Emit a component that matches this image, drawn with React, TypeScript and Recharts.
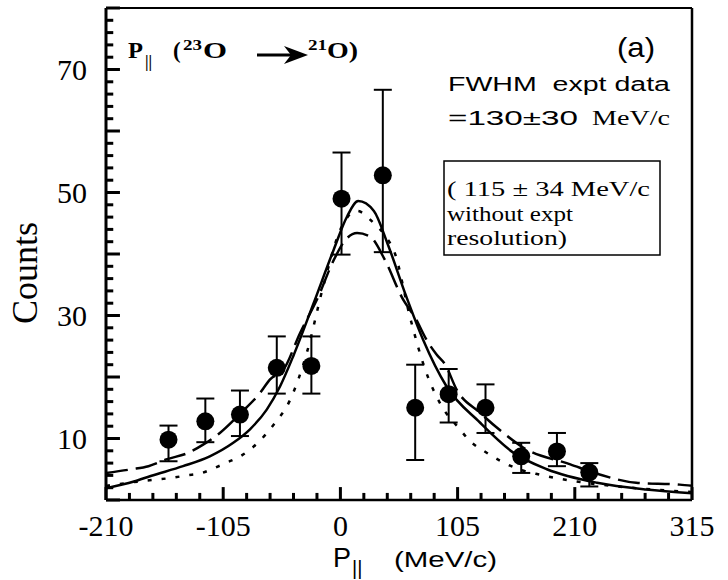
import {
  ComposedChart,
  ErrorBar,
  Label,
  Line,
  ReferenceLine,
  Scatter,
  XAxis,
  YAxis,
} from 'recharts';

// measured points (P|| in MeV/c, counts) with asymmetric error bars
const pointX = [-154, -121, -90, -57, -26, 1, 38, 67, 97, 130, 162, 194, 223];
const pointY = [9.8, 12.8, 13.9, 21.5, 21.8, 49.0, 52.8, 15.0, 17.2, 15.0, 7.1, 7.9, 4.5];
const errUp = [2.3, 3.7, 3.9, 5.1, 4.8, 7.5, 13.9, 7.0, 4.1, 3.8, 2.2, 3.0, 1.5];
const errDown = [3.5, 3.4, 3.5, 4.2, 4.5, 9.1, 12.5, 8.5, 4.6, 4.1, 2.7, 2.4, 2.3];

// solid curve
const solidX = [-210, -185, -170, -141, -117, -96, -81, -66, -54, -42, -24, -6, 6, 16, 30, 42, 59, 74, 95, 125, 155, 185, 230, 274, 315];
const solidY = [1.9, 3.0, 3.9, 5.5, 7.1, 9.3, 11.5, 14.7, 18.5, 23.5, 32, 40.7, 46.1, 48.6, 47, 41.8, 33.1, 26.1, 18.5, 12.6, 7.7, 5.0, 2.8, 1.7, 1.1];

// dashed curve
const dashX = [-210, -187, -172, -156, -136, -123, -108, -90, -72, -63, -51, -36, -20, -6, 5, 15, 26, 40, 55, 68, 77, 86, 94, 104, 125, 146, 164, 206, 233, 265, 304, 315];
const dashY = [4.4, 5.0, 5.5, 6.6, 7.7, 9.0, 10.9, 14, 17.4, 19.6, 21.2, 27.2, 33, 39, 42.4, 43.4, 42.9, 39, 33, 29.3, 26.1, 23.7, 22, 18, 14.2, 10.9, 8.5, 5.8, 4.1, 2.8, 2.5, 2.3];

// dotted curve
const dotX = [-210, -190, -166, -151, -138, -124, -114, -103, -88, -74, -60, -45, -30, -15, 0, 15, 30, 40, 49, 62, 76, 90, 107, 116, 130, 144, 160, 179, 192, 220, 260, 315];
const dotY = [2.3, 2.8, 3.3, 3.6, 4.0, 4.4, 5.1, 6.0, 7.3, 9.3, 12.2, 16.3, 24, 35, 44, 47, 45, 43, 40, 30, 21.2, 15.5, 11.5, 9.6, 7.8, 6.3, 5.0, 4.1, 3.6, 2.8, 2.0, 1.3];

const xTicks = [-210, -189, -168, -147, -126, -105, -84, -63, -42, -21, 0, 21, 42, 63, 84, 105, 126, 147, 168, 189, 210, 231, 252, 273, 294, 315];
const xLabels = [-210, -105, 0, 105, 210, 315];
const yTicks = [0, 2, 4, 6, 8, 10, 12, 14, 16, 18, 20, 22, 24, 26, 28, 30, 32, 34, 36, 38, 40, 42, 44, 46, 48, 50, 52, 54, 56, 58, 60, 62, 64, 66, 68, 70, 72, 74, 76, 78, 80];
const yLabels = [10, 30, 50, 70];

const points = pointX.map((x, i) => ({ x, y: pointY[i], err: [errDown[i], errUp[i]] }));
const solid = solidX.map((x, i) => ({ x, y: solidY[i] }));
const dashed = dashX.map((x, i) => ({ x, y: dashY[i] }));
const dotted = dotX.map((x, i) => ({ x, y: dotY[i] }));

const SERIF = '"Liberation Serif", "Times New Roman", serif';
const SANS = '"Liberation Sans", Arial, sans-serif';

// inward tick lengths in axis units (about 13/7 px on x, 14/7 px on y)
const X_TICK_MAJOR = 2.1;
const X_TICK_MINOR = 1.15;
const Y_TICK_MAJOR = 12.5;
const Y_TICK_MINOR = 6.5;

function XTick(props: any) {
  const { x, y, payload } = props;
  if (!xLabels.includes(payload.value)) return <g />;
  return (
    <text x={x} y={y} dy="0.71em" textAnchor="middle" fontFamily={SERIF} fontSize={30} fill="#000">
      {payload.value}
    </text>
  );
}

function YTick(props: any) {
  const { x, y, payload } = props;
  if (!yLabels.includes(payload.value)) return <g />;
  return (
    <text x={x} y={y} dy="0.34em" textAnchor="end" fontFamily={SERIF} fontSize={30} fill="#000">
      {payload.value}
    </text>
  );
}

function Dot(props: any) {
  return <circle cx={props.cx} cy={props.cy} r={9} fill="#000" />;
}

function XTitle(props: any) {
  const vb = props.viewBox;
  const x0 = vb.x + 227;
  const base = vb.y + 67;
  return (
    <g fill="#000">
      <text x={x0} y={base} fontFamily={SANS} fontSize={27}>P</text>
      <text x={x0 + 19} y={base + 8} fontFamily={SANS} fontSize={20}>||</text>
      <text x={x0 + 61} y={base} fontFamily={SANS} fontSize={22} textLength={103} lengthAdjust="spacingAndGlyphs">
        (MeV/c)
      </text>
    </g>
  );
}

function YTitle(props: any) {
  const vb = props.viewBox;
  const cx = vb.x + 37;
  const cy = vb.y + 265;
  return (
    <text
      x={cx}
      y={cy}
      transform={`rotate(-90 ${cx} ${cy})`}
      textAnchor="middle"
      fontFamily={SERIF}
      fontSize={36}
      fill="#000"
    >
      Counts
    </text>
  );
}

function Notes() {
  return (
    <svg width={728} height={580} style={{ position: 'absolute', left: 0, top: 0, pointerEvents: 'none' }}>
      <g fontFamily={SERIF} fontWeight="bold" fill="#000">
        <text x={128} y={58} fontSize={23} textLength={15} lengthAdjust="spacingAndGlyphs">P</text>
        <text x={145} y={67} fontSize={16}>||</text>
        <text x={173} y={58} fontSize={23}>(</text>
        <text x={183} y={50} fontSize={15} textLength={19} lengthAdjust="spacingAndGlyphs">23</text>
        <text x={203} y={58} fontSize={23} textLength={24} lengthAdjust="spacingAndGlyphs">O</text>
        <line x1={257} y1={55} x2={292} y2={55} stroke="#000" strokeWidth={3} />
        <path d="M284 46 L308 55 L284 64 L291 55 Z" fill="#000" />
        <text x={308} y={50} fontSize={15} textLength={19} lengthAdjust="spacingAndGlyphs">21</text>
        <text x={327} y={58} fontSize={23} textLength={31} lengthAdjust="spacingAndGlyphs">O)</text>
      </g>
      <text x={617} y={57} fontFamily={SANS} fontSize={28} textLength={38} lengthAdjust="spacingAndGlyphs">
        (a)
      </text>
      <text
        x={448}
        y={91}
        fontFamily={SANS}
        fontSize={20}
        textLength={222}
        lengthAdjust="spacingAndGlyphs"
        style={{ whiteSpace: 'pre' }}
      >
        FWHM  expt data
      </text>
      <text x={448} y={125} fontFamily={SANS} fontSize={21} textLength={130} lengthAdjust="spacingAndGlyphs">
        =130±30
      </text>
      <text x={592} y={125} fontFamily={SERIF} fontSize={21} textLength={78} lengthAdjust="spacingAndGlyphs">
        MeV/c
      </text>
      <rect x={444} y={161} width={216} height={94} fill="none" stroke="#000" strokeWidth={1.5} />
      <g fontFamily={SERIF} fontSize={20} fill="#000" style={{ whiteSpace: 'pre' }}>
        <text x={447} y={196} textLength={203} lengthAdjust="spacingAndGlyphs">( 115 ± 34  MeV/c</text>
        <text x={447} y={221} textLength={126} lengthAdjust="spacingAndGlyphs">without expt</text>
        <text x={447} y={245} textLength={120} lengthAdjust="spacingAndGlyphs">resolution)</text>
      </g>
    </svg>
  );
}

export default function App() {
  return (
    <div style={{ position: 'absolute', left: 0, top: 0, width: 728, height: 580, background: '#fff' }}>
      <ComposedChart width={728} height={580} margin={{ top: 8, right: 36, bottom: 30, left: 0 }}>
        <XAxis
          dataKey="x"
          type="number"
          domain={[-210, 315]}
          ticks={xTicks}
          interval={0}
          height={50}
          tickSize={0}
          tickMargin={15}
          tickLine={false}
          axisLine={{ stroke: '#000', strokeWidth: 2.5 }}
          tick={<XTick />}
        >
          <Label content={<XTitle />} />
        </XAxis>
        <YAxis
          type="number"
          domain={[0, 80]}
          ticks={yTicks}
          interval={0}
          width={106}
          tickSize={0}
          tickMargin={19}
          tickLine={false}
          axisLine={{ stroke: '#000', strokeWidth: 3 }}
          tick={<YTick />}
        >
          <Label content={<YTitle />} />
        </YAxis>
        <Line
          data={dotted}
          dataKey="y"
          type="monotone"
          stroke="#000"
          strokeWidth={2.5}
          strokeDasharray="4 10"
          dot={false}
          isAnimationActive={false}
        />
        <Line
          data={dashed}
          dataKey="y"
          type="monotone"
          stroke="#000"
          strokeWidth={2.5}
          strokeDasharray="22 8"
          dot={false}
          isAnimationActive={false}
        />
        <Line
          data={solid}
          dataKey="y"
          type="monotone"
          stroke="#000"
          strokeWidth={2.5}
          dot={false}
          isAnimationActive={false}
        />
        <Scatter data={points} dataKey="y" shape={<Dot />} isAnimationActive={false}>
          <ErrorBar dataKey="err" direction="y" width={9} stroke="#000" strokeWidth={2} />
        </Scatter>
        <ReferenceLine y={80} stroke="#000" strokeWidth={2} />
        <ReferenceLine x={315} stroke="#000" strokeWidth={2.5} />
        {xTicks.map((v) => (
          <ReferenceLine
            key={`xt${v}`}
            segment={[
              { x: v, y: 0 },
              { x: v, y: v % 105 === 0 ? X_TICK_MAJOR : X_TICK_MINOR },
            ]}
            stroke="#000"
            strokeWidth={3}
            ifOverflow="visible"
          />
        ))}
        {yTicks.map((v) => (
          <ReferenceLine
            key={`yt${v}`}
            segment={[
              { x: -210, y: v },
              { x: -210 + (v % 10 === 0 ? Y_TICK_MAJOR : Y_TICK_MINOR), y: v },
            ]}
            stroke="#000"
            strokeWidth={3}
            ifOverflow="visible"
          />
        ))}
      </ComposedChart>
      <Notes />
    </div>
  );
}
